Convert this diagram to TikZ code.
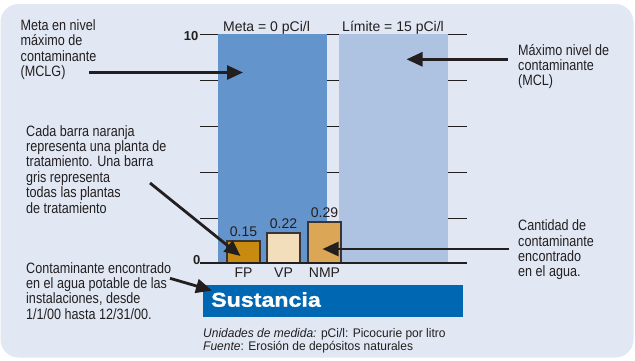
\documentclass[tikz,border=0pt]{standalone}
\usepackage{fontspec}
\setmainfont{Liberation Sans}
\newfontfamily\lblfont[FakeStretch=0.84]{Liberation Sans}
\newfontfamily\footfont[FakeStretch=0.96]{Liberation Sans}
\newfontfamily\blkfont[FakeStretch=1.16,FakeBold=1.2]{Liberation Sans}
\usetikzlibrary{arrows.meta}
\definecolor{bg}{HTML}{E1E8F3}
\definecolor{bardark}{HTML}{6494CC}
\definecolor{barlight}{HTML}{AEC3E2}
\definecolor{banner}{HTML}{0067B2}
\definecolor{fpc}{HTML}{C98A10}
\definecolor{vpc}{HTML}{F2DEBB}
\definecolor{nmpc}{HTML}{DBA655}
\definecolor{txt}{HTML}{231F20}
\newcommand\lblines[1]{\parbox[t]{220pt}{\raggedright\lblfont\fontsize{15}{15.4}\selectfont #1}}
\begin{document}
\begin{tikzpicture}[x=1pt,y=-1pt,
  tickline/.style={line width=0.9pt, draw=txt},
  callout/.style={line width=2.8pt, draw=txt, -{Triangle[length=16pt,width=14pt]}},
  lbl/.style={anchor=base west, inner sep=0pt, text=txt},
  smallbar/.style={draw=txt!90, line width=1.4pt},
  midtxt/.style={anchor=base, inner sep=0pt, text=txt, font=\fontsize{14}{14}\selectfont}]
\useasboundingbox (0,0) rectangle (635,360);
\fill[white] (0,0) rectangle (635,360);
\fill[bg, rounded corners=18pt] (0.5,4) rectangle (633.5,357.5);
% large bars
\fill[bardark] (218,34) rectangle (327,263);
\fill[barlight] (339,34) rectangle (448,263);
% ticks
\foreach \y in {34,80,126,172,218} \draw[tickline] (200,\y) -- (218,\y);
\foreach \y in {34,80,126,172} \draw[tickline] (327,\y) -- (339,\y);
\foreach \y in {34,80,126,172,218} \draw[tickline] (448,\y) -- (467,\y);
% small bars
\draw[smallbar, fill=fpc] (227,241) rectangle (260,263.3);
\draw[smallbar, fill=vpc] (267,233) rectangle (300,263.3);
\draw[smallbar, fill=nmpc] (308,222) rectangle (341,263.3);
\draw[line width=2pt, draw=txt] (200,263.3) -- (467,263.3);
% axis labels
\node[anchor=base east, inner sep=0pt, text=txt, font=\bfseries\fontsize{13}{13}\selectfont] (ten) at (198.5,40.5) {10};
\node[anchor=base east, inner sep=0pt, text=txt, font=\bfseries\fontsize{13}{13}\selectfont] (zero) at (200.5,264) {0};
\node[midtxt] (meta) at (266.5,31) {Meta = 0 pCi/l};
\node[midtxt] (limite) at (393,31) {Límite = 15 pCi/l};
% values
\node[midtxt] (vfp) at (243.5,236.5) {0.15};
\node[midtxt] (vvp) at (283.5,228) {0.22};
\node[midtxt] (vnmp) at (324.5,217.5) {0.29};
\node[midtxt] (cfp) at (243.5,277.3) {FP};
\node[midtxt] (cvp) at (283.5,277.3) {VP};
\node[midtxt] (cnmp) at (324.5,277.3) {NMP};
% banner
\fill[banner] (203,285) rectangle (463,316.5);
\node[anchor=base west, inner sep=0pt, text=white] (sust) at (211,306.7) {\blkfont\bfseries\fontsize{20}{20}\selectfont Sustancia};
% footnotes
\node[lbl] (unid) at (203,337.5) {\footfont\fontsize{12.5}{13}\selectfont{\itshape Unidades de medida:} pCi/l: Picocurie por litro};
\node[lbl] (fuente) at (203,350.5) {\footfont\fontsize{12.5}{13}\selectfont{\itshape Fuente}: Erosión de depósitos naturales};
% callout texts
\node[lbl] (mclg) at (20.5,30.5) {\lblines{Meta en nivel\\máximo de\\contaminante\\(MCLG)}};
\node[lbl] (mcl) at (518,55) {\lblines{Máximo nivel de\\contaminante\\(MCL)}};
\node[lbl] (cada) at (26,136) {\lblines{Cada barra naranja\\representa una planta de\\tratamiento. Una barra\\gris representa\\todas las plantas\\de tratamiento}};
\node[lbl] (encontrado) at (26,273) {\lblines{Contaminante encontrado\\en el agua potable de las\\instalaciones, desde\\1/1/00 hasta 12/31/00.}};
\node[lbl] (cantidad) at (518,230.7) {\lblines{Cantidad de\\contaminante\\encontrado\\en el agua.}};
% callout arrows
\coordinate (mclgS) at (89,72.5);
\coordinate (mclgT) at (243,72.5);
\coordinate (mclS) at (507.5,59.3);
\coordinate (mclT) at (406.5,59.3);
\coordinate (cadaS) at (150,183);
\coordinate (cadaT) at (240.5,256);
\coordinate (encS) at (170,278.3);
\coordinate (encT) at (212,290.5);
\coordinate (cantS) at (508.5,249);
\coordinate (cantT) at (322.5,249);
\draw[callout] (mclgS) -- (mclgT);
\draw[callout] (mclS) -- (mclT);
\draw[callout] (cadaS) -- (cadaT);
\draw[callout] (encS) -- (encT);
\draw[callout] (cantS) -- (cantT);
\end{tikzpicture}
\end{document}
